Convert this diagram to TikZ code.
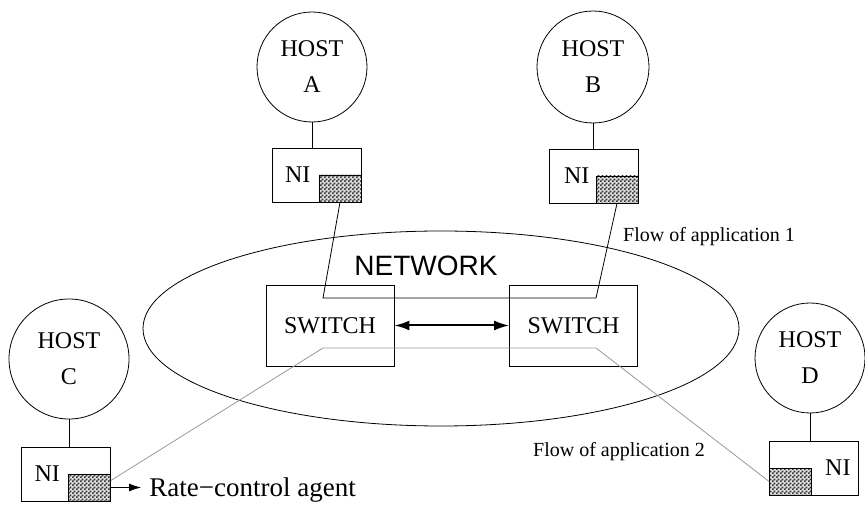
\documentclass[tikz,border=0pt]{standalone}
\usepackage{fontspec}
\setmainfont{Liberation Serif}
\setsansfont{Liberation Sans}
\usepackage{tikz}
\usetikzlibrary{calc,patterns,shapes.geometric,arrows.meta}
\pgfdeclarepatternformonly{finecheck}{\pgfqpoint{0pt}{0pt}}{\pgfqpoint{2pt}{2pt}}{\pgfqpoint{2pt}{2pt}}{%
  \pgfpathrectangle{\pgfqpoint{0pt}{0pt}}{\pgfqpoint{1pt}{1pt}}%
  \pgfpathrectangle{\pgfqpoint{1pt}{1pt}}{\pgfqpoint{1pt}{1pt}}%
  \pgfusepath{fill}}
\tikzset{
  host/.style={draw, circle, inner sep=0pt, align=center, font=\fontsize{12}{18}\selectfont},
  nibox/.style={draw, rectangle, minimum width=44.5pt, minimum height=27pt, inner sep=0pt},
  agent/.style={draw, rectangle, minimum width=21pt, minimum height=13.5pt, inner sep=0pt,
    preaction={fill=black!12}, pattern=finecheck, pattern color=black!80},
  switchbox/.style={draw, rectangle, minimum width=64pt, minimum height=40.5pt, font=\fontsize{12}{14}\selectfont},
  nitext/.style={font=\fontsize{12}{14}\selectfont, inner sep=0pt},
  flowtext/.style={font=\fontsize{10}{12}\selectfont},
  flowgray/.style={draw=black!40},
}
\begin{document}
\begin{tikzpicture}[x=0.5pt,y=-0.5pt]
		%%%%% START %%%%%
		\useasboundingbox (0,0) rectangle (865,506);
		
		\node[draw, ellipse, minimum width=298pt, minimum height=97.5pt, inner sep=0pt] (net) at (441,328.5) {};
		\node[font=\sffamily\fontsize{14}{16}\selectfont] (netlbl) at (426,266) {NETWORK};
		
		\node[switchbox] (swL) at (330,325.5) {SWITCH};
		\node[switchbox] (swR) at (573.5,325.5) {SWITCH};
		\draw[{Latex[length=7.5pt,width=5pt]}-{Latex[length=7.5pt,width=5pt]}, line width=1pt] (swL.east) -- (swR.west);
		
		% hosts and their interfaces
		\node[host, minimum size=55pt] (hostA) at (312,67) {HOST\\A};
		\node[host, minimum size=56pt] (hostB) at (593,67) {HOST\\B};
		\node[host, minimum size=60pt] (hostC) at (69,359) {HOST\\C};
		\node[host, minimum size=55pt] (hostD) at (810,358) {HOST\\D};
		
		\node[nibox] (niA) at (316.5,175) {};
		\node[nibox] (niB) at (593.5,176) {};
		\node[nibox] (niC) at (66,474) {};
		\node[nibox] (niD) at (814,468) {};
		
		\node[agent, anchor=south east] (hatchA) at (niA.south east) {};
		\node[agent, anchor=south east] (hatchB) at (niB.south east) {};
		\node[agent, anchor=south east] (hatchC) at (niC.south east) {};
		\node[agent, anchor=south west] (hatchD) at (niD.south west) {};
		
		\node[nitext, anchor=west] (niAlbl) at ([xshift=6.5pt]niA.west) {NI};
		\node[nitext, anchor=west] (niBlbl) at ([xshift=7.5pt]niB.west) {NI};
		\node[nitext, anchor=west] (niClbl) at ([xshift=6.5pt]niC.west) {NI};
		\node[nitext, anchor=east] (niDlbl) at ([xshift=-4pt]niD.east) {NI};
		
		\draw (hostA.south) -- (hostA.south |- niA.north);
		\draw (hostB.south) -- (hostB.south |- niB.north);
		\draw (hostC.south) -- (hostC.south |- niC.north);
		\draw (hostD.south) -- (hostD.south |- niD.north);
		
		% flow 1
		\coordinate (f1a) at (323,298);
		\coordinate (f1b) at (596,298);
		\draw (hatchA.south) -- (f1a) -- (f1b) -- (hatchB.south);
		\node[flowtext] (flow1) at (709,237) {Flow of application 1};
		
		% flow 2
		\coordinate (f2a) at (323,348);
		\coordinate (f2b) at (596,348);
		\draw[flowgray] ([yshift=3.5pt]hatchC.east) -- (f2a) -- (f2b) -- (hatchD.west);
		\node[flowtext] (flow2) at (619,452) {Flow of application 2};
		
		\node[font=\fontsize{13.5}{16}\selectfont, anchor=west, inner sep=4pt] (rca) at (141,490) {Rate−control agent};
		\draw[-{Latex[length=6pt,width=4pt]}] (hatchC.east) -- (hatchC.east -| rca.west);
		
		%%%%% END %%%%%
\end{tikzpicture}
\end{document}
